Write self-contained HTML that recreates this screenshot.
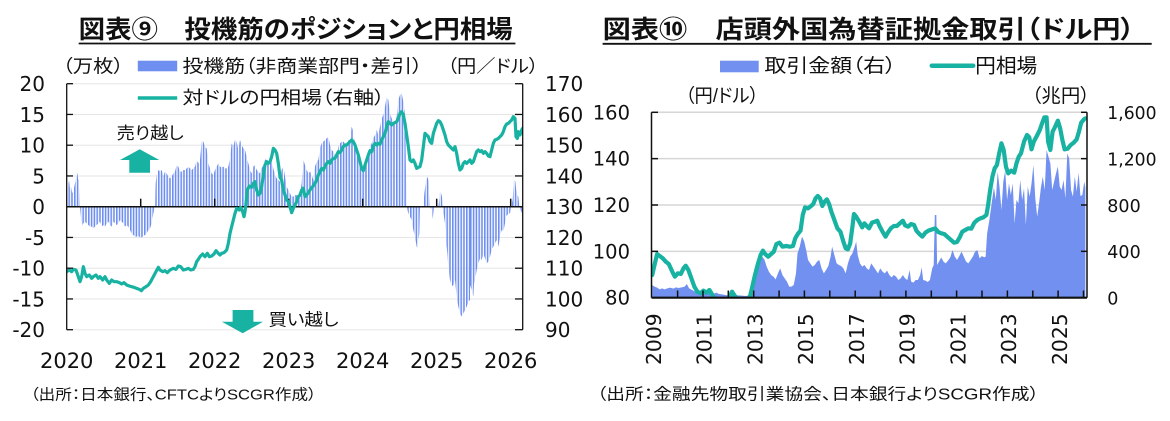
<!DOCTYPE html>
<html><head><meta charset="utf-8">
<style>
html,body{margin:0;padding:0;background:#fff;}
svg{display:block;}
.jp{font-family:"Liberation Sans","Noto Sans CJK JP",sans-serif;font-feature-settings:"palt";fill:#111;}
.num{font-family:"DejaVu Sans",sans-serif;fill:#111;}
</style></head><body>
<svg width="1170" height="421" viewBox="0 0 1170 421" xmlns="http://www.w3.org/2000/svg">
<defs>
<pattern id="stripe" patternUnits="userSpaceOnUse" width="8.4" height="30"><rect x="0" y="0" width="4.8" height="30" fill="#6f8ff0"/></pattern>
<clipPath id="clipL"><rect x="66.7" y="80" width="456" height="252"/></clipPath>
<clipPath id="clipR"><rect x="651.5" y="100" width="435.5" height="197.7"/></clipPath>
</defs>

<!-- ================= LEFT CHART ================= -->
<text class="jp" x="78.7" y="30" font-size="25" font-weight="bold" dominant-baseline="central" textLength="434" lengthAdjust="spacingAndGlyphs">図表⑨　投機筋のポジションと円相場</text>
<line x1="78.7" y1="43.5" x2="515.4" y2="43.5" stroke="#111" stroke-width="1.8"/>

<text class="jp" x="62.6" y="66.7" font-size="18" dominant-baseline="central" textLength="61" lengthAdjust="spacingAndGlyphs">（万枚）</text>
<rect x="137.8" y="60.7" width="39.4" height="10.6" fill="#6f8ff0"/>
<text class="jp" x="182.5" y="66.7" font-size="18" dominant-baseline="central" textLength="240" lengthAdjust="spacingAndGlyphs">投機筋（非商業部門・差引）</text>
<text class="jp" x="447.4" y="66.7" font-size="18" dominant-baseline="central" textLength="91" lengthAdjust="spacingAndGlyphs">（円／ドル）</text>
<line x1="137.8" y1="98" x2="177.2" y2="98" stroke="#18b2a2" stroke-width="3.5"/>
<text class="jp" x="182.5" y="98" font-size="18" dominant-baseline="central" textLength="202" lengthAdjust="spacingAndGlyphs">対ドルの円相場（右軸）</text>

<g stroke="#e6e6e6" stroke-width="1">
<line x1="66.7" y1="83.7" x2="522.7" y2="83.7"/>
<line x1="66.7" y1="114.45" x2="522.7" y2="114.45"/>
<line x1="66.7" y1="145.2" x2="522.7" y2="145.2"/>
<line x1="66.7" y1="175.95" x2="522.7" y2="175.95"/>
<line x1="66.7" y1="237.45" x2="522.7" y2="237.45"/>
<line x1="66.7" y1="268.2" x2="522.7" y2="268.2"/>
<line x1="66.7" y1="298.95" x2="522.7" y2="298.95"/>
<line x1="66.7" y1="329.7" x2="522.7" y2="329.7"/>
</g>

<g clip-path="url(#clipL)">
<g transform="translate(60,80) scale(0.333333)">
<path fill="url(#stripe)" d="M20,380 L20,360 23,330 27,300 30,325 33,320 37,340 40,330 43,320 47,300 50,290 52,278 55,300 58,300 60,380 62,400 65,440 70,430 75,425 80,430 85,435 90,440 95,440 100,445 105,440 110,435 115,430 120,425 125,440 130,435 135,440 140,430 145,425 150,435 155,440 160,425 165,430 170,435 175,430 180,420 185,425 190,430 195,440 200,435 205,440 210,450 215,460 220,465 225,470 230,470 235,468 240,472 245,472 250,468 255,465 260,460 265,450 270,445 275,430 280,400 285,380 287,310 290,285 295,270 300,275 305,270 310,290 315,275 320,280 325,290 330,295 335,290 340,280 345,275 350,255 355,260 360,275 365,275 370,270 375,270 380,265 385,260 390,265 395,270 400,265 405,260 410,240 415,250 420,240 425,185 430,185 435,200 440,205 445,250 450,265 455,280 460,285 465,270 470,260 475,250 480,260 485,262 490,260 495,265 500,265 505,260 510,235 515,190 520,200 525,180 530,185 535,210 540,180 545,195 550,205 555,210 560,230 565,250 570,270 575,280 580,260 585,255 590,270 595,275 600,280 605,265 610,255 615,240 620,235 625,250 630,230 635,240 640,265 645,285 650,295 655,300 660,305 660,380 Z"/>
</g>
<g transform="translate(270,80) scale(0.333333)">
<path fill="url(#stripe)" d="M30,380 L30,300 35,270 40,260 45,290 50,320 55,330 60,340 65,350 70,350 75,345 80,345 85,355 90,340 95,310 100,240 105,255 110,270 115,280 120,275 125,285 130,300 135,260 140,245 145,240 150,205 155,190 160,185 165,180 170,175 175,170 180,195 185,210 190,215 195,225 200,235 205,200 210,190 215,185 220,185 225,190 230,195 235,180 240,180 245,140 250,155 255,200 260,225 265,230 270,250 275,265 280,270 285,255 290,250 295,220 300,200 305,190 310,175 315,165 320,150 325,165 330,140 335,115 340,105 345,80 350,50 355,60 360,100 365,115 370,125 375,130 380,110 385,60 390,45 395,40 400,65 405,95 410,380 415,400 420,410 425,420 430,450 435,470 440,500 443,505 445,480 448,460 450,380 460,380 463,340 467,310 472,290 475,300 478,330 480,380 485,390 487,420 490,400 492,380 505,380 508,360 510,330 513,340 516,350 518,380 522,410 525,430 528,480 532,520 535,560 540,600 545,620 550,615 555,600 560,650 565,680 570,700 575,710 580,700 585,690 590,680 595,665 600,660 600,380 Z"/>
</g>
<g transform="translate(470,50) scale(0.333333)">
<path fill="url(#stripe)" d="M0,470 L0,705 5,720 10,740 12,700 15,690 20,660 25,640 30,625 35,630 40,610 45,625 50,640 55,635 60,620 65,600 70,590 75,580 80,570 85,590 90,560 95,540 100,545 105,520 108,500 112,495 116,490 120,490 123,470 128,450 132,385 136,395 140,430 145,440 148,470 150,470 152,480 155,490 157,470 Z"/>
</g>
</g>

<line x1="66.7" y1="206.7" x2="522.7" y2="206.7" stroke="#111" stroke-width="1.5"/>
<g stroke="#111" stroke-width="1.5">
<line x1="140.7" y1="206.7" x2="140.7" y2="198.7"/>
<line x1="214.7" y1="206.7" x2="214.7" y2="198.7"/>
<line x1="288.7" y1="206.7" x2="288.7" y2="198.7"/>
<line x1="362.7" y1="206.7" x2="362.7" y2="198.7"/>
<line x1="436.7" y1="206.7" x2="436.7" y2="198.7"/>
<line x1="510.7" y1="206.7" x2="510.7" y2="198.7"/>
</g>

<g clip-path="url(#clipL)" fill="none" stroke="#18b2a2" stroke-width="3.2" stroke-linejoin="round" stroke-linecap="round">
<g transform="translate(60,80) scale(0.333333)">
<path vector-effect="non-scaling-stroke" d="M20,575 L28,570 35,575 40,568 48,570 55,590 60,605 65,590 70,560 75,580 80,590 88,585 95,595 100,590 108,585 115,595 120,590 128,600 135,590 140,600 148,610 155,600 162,605 170,605 178,608 185,612 192,608 200,615 208,618 215,620 222,622 230,625 238,628 244,632 250,625 258,620 265,615 272,605 280,590 288,575 295,562 300,570 308,575 315,572 322,578 330,570 340,565 348,568 355,558 362,560 370,570 378,568 385,565 392,570 400,568 405,560 410,545 415,538 420,530 428,522 435,530 442,520 448,530 455,528 462,522 468,512 475,520 480,525 485,520 492,518 500,510 505,490 510,460 515,440 520,420 525,400 530,385 538,390 542,382 548,395 552,410 555,395 558,370 562,330 568,318 575,322 580,310 585,305 590,330 595,345 600,340 605,320 610,285 615,255 620,245 625,250 630,245 635,230 640,205 645,210 650,220 655,250 660,290"/>
</g>
<g transform="translate(270,80) scale(0.333333)">
<path vector-effect="non-scaling-stroke" d="M30,292 L35,300 40,330 45,345 50,360 55,365 60,380 65,398 70,385 75,375 80,365 85,350 90,345 95,330 100,325 105,350 110,345 115,338 120,330 128,320 135,310 140,300 145,285 150,275 155,265 160,270 165,260 170,250 175,245 180,250 185,240 190,235 195,235 200,225 205,215 210,218 215,210 220,200 225,195 230,195 235,190 240,185 245,180 250,185 255,195 260,210 265,225 270,245 275,265 280,272 285,255 290,240 295,225 300,212 305,215 310,198 315,190 320,195 325,190 330,193 335,180 340,170 345,160 350,140 355,125 360,130 365,135 370,130 375,128 380,125 385,115 390,100 395,95 400,105 405,130 410,165 415,200 420,240 425,245 430,240 435,250 440,265 445,262 450,260 455,240 460,200 465,160 470,165 475,170 480,185 485,190 490,160 495,145 500,130 505,122 510,125 515,135 520,150 525,165 530,185 535,195 540,200 545,205 550,210 555,200 560,220 565,250 570,270 575,265 580,250 585,245 590,250 595,245 600,240"/>
</g>
<g transform="translate(470,50) scale(0.333333)">
<path vector-effect="non-scaling-stroke" d="M0,330 L5,340 10,335 15,320 20,305 25,300 30,305 35,302 40,310 45,305 50,310 55,318 60,320 65,300 70,280 75,270 80,268 85,265 90,260 95,255 100,245 105,230 110,222 115,220 120,215 125,210 130,200 135,205 138,260 142,265 145,245 150,255 155,240 158,235"/>
</g>
</g>

<g stroke="#111" stroke-width="1.3">
<line x1="66.7" y1="83.7" x2="66.7" y2="329.7"/>
<line x1="522.7" y1="83.7" x2="522.7" y2="329.7"/>
<line x1="66.7" y1="83.7" x2="73" y2="83.7"/>
<line x1="66.7" y1="114.45" x2="73" y2="114.45"/>
<line x1="66.7" y1="145.2" x2="73" y2="145.2"/>
<line x1="66.7" y1="175.95" x2="73" y2="175.95"/>
<line x1="66.7" y1="237.45" x2="73" y2="237.45"/>
<line x1="66.7" y1="268.2" x2="73" y2="268.2"/>
<line x1="66.7" y1="298.95" x2="73" y2="298.95"/>
<line x1="66.7" y1="329.7" x2="73" y2="329.7"/>
<line x1="515" y1="83.7" x2="522.7" y2="83.7"/>
<line x1="515" y1="114.45" x2="522.7" y2="114.45"/>
<line x1="515" y1="145.2" x2="522.7" y2="145.2"/>
<line x1="515" y1="175.95" x2="522.7" y2="175.95"/>
<line x1="515" y1="237.45" x2="522.7" y2="237.45"/>
<line x1="515" y1="268.2" x2="522.7" y2="268.2"/>
<line x1="515" y1="298.95" x2="522.7" y2="298.95"/>
<line x1="515" y1="329.7" x2="522.7" y2="329.7"/>
</g>

<polygon points="139.7,149.3 159.3,160 150,160 150,172.7 129.3,172.7 129.3,160 120,160" fill="#18b2a2"/>
<text class="jp" x="116.7" y="133.3" font-size="17" dominant-baseline="central" textLength="67" lengthAdjust="spacingAndGlyphs">売り越し</text>
<polygon points="232.6,310 253.4,310 253.4,321.7 263,321.7 242.7,333.3 221.9,321.7 232.6,321.7" fill="#18b2a2"/>
<text class="jp" x="268.5" y="320" font-size="17" dominant-baseline="central" textLength="70" lengthAdjust="spacingAndGlyphs">買い越し</text>

<g class="num" font-size="20" text-anchor="end">
<text x="45" y="91">20</text>
<text x="45" y="121.75">15</text>
<text x="45" y="152.5">10</text>
<text x="45" y="183.25">5</text>
<text x="45" y="214">0</text>
<text x="45" y="244.75">-5</text>
<text x="45" y="275.5">-10</text>
<text x="45" y="306.25">-15</text>
<text x="45" y="337">-20</text>
</g>
<g class="num" font-size="20" text-anchor="start">
<text x="545" y="91">170</text>
<text x="545" y="121.75">160</text>
<text x="545" y="152.5">150</text>
<text x="545" y="183.25">140</text>
<text x="545" y="214">130</text>
<text x="545" y="244.75">120</text>
<text x="545" y="275.5">110</text>
<text x="545" y="306.25">100</text>
<text x="545" y="337">90</text>
</g>
<g class="num" font-size="21" text-anchor="middle">
<text x="66.7" y="368">2020</text>
<text x="140.7" y="368">2021</text>
<text x="214.7" y="368">2022</text>
<text x="288.7" y="368">2023</text>
<text x="362.7" y="368">2024</text>
<text x="436.7" y="368">2025</text>
<text x="510.7" y="368">2026</text>
</g>
<text class="jp" x="30.4" y="395" font-size="15" dominant-baseline="central" textLength="286" lengthAdjust="spacingAndGlyphs">（出所：日本銀行、CFTCよりSCGR作成）</text>

<!-- ================= RIGHT CHART ================= -->
<text class="jp" x="602.6" y="30" font-size="25" font-weight="bold" dominant-baseline="central" textLength="532" lengthAdjust="spacingAndGlyphs">図表⑩　店頭外国為替証拠金取引（ドル円）</text>
<line x1="602.6" y1="43.8" x2="1151.7" y2="43.8" stroke="#111" stroke-width="1.8"/>

<rect x="720" y="60.7" width="38.7" height="11.6" fill="#7190f0"/>
<text class="jp" x="764.4" y="66.7" font-size="19" dominant-baseline="central" textLength="131.7" lengthAdjust="spacingAndGlyphs">取引金額（右）</text>
<line x1="931.8" y1="65.7" x2="973.2" y2="65.7" stroke="#18b2a2" stroke-width="4.5" stroke-linecap="round"/>
<text class="jp" x="975.1" y="66.7" font-size="20" dominant-baseline="central" textLength="62.2" lengthAdjust="spacingAndGlyphs">円相場</text>
<text class="jp" x="685.4" y="96.7" font-size="19" dominant-baseline="central" textLength="73.3" lengthAdjust="spacingAndGlyphs">（円/ドル）</text>
<text class="jp" x="1031.7" y="96.7" font-size="19" dominant-baseline="central" textLength="58.3" lengthAdjust="spacingAndGlyphs">（兆円）</text>

<g stroke="#d6d6d6" stroke-width="1.5">
<line x1="651.5" y1="112.3" x2="1087" y2="112.3"/>
<line x1="651.5" y1="158.65" x2="1087" y2="158.65"/>
<line x1="651.5" y1="205" x2="1087" y2="205"/>
<line x1="651.5" y1="251.35" x2="1087" y2="251.35"/>
</g>

<g clip-path="url(#clipR)">
<g transform="translate(580,100) scale(0.37628,0.333333)">
<path fill="#7190f0" d="M192,593 L192,555 198,560 205,563 212,568 218,565 225,568 232,565 240,563 248,566 255,562 262,564 270,562 278,560 284,552 290,565 298,570 306,575 314,578 322,578 330,580 338,576 346,580 354,582 362,578 370,582 378,583 386,585 394,586 402,586 410,584 420,586 430,587 440,588 448,586 454,565 460,530 466,505 472,495 478,480 484,470 490,478 496,500 502,515 508,525 514,530 520,538 526,520 532,505 538,525 544,535 550,545 556,560 562,560 568,555 574,520 578,460 584,440 590,410 596,425 602,455 606,480 612,490 618,500 624,495 630,485 636,480 642,505 648,520 654,510 660,498 666,470 670,440 676,465 682,490 688,495 694,498 700,505 706,520 712,490 718,470 724,460 730,440 734,425 738,465 744,490 750,500 756,495 762,505 768,510 774,490 780,500 786,510 792,520 798,505 804,515 810,520 816,512 822,525 828,532 834,525 840,530 846,540 852,535 858,525 864,535 870,540 876,510 880,545 886,548 892,540 898,540 904,525 908,502 912,540 918,542 924,546 930,540 936,505 940,495 943,345 947,345 949,495 954,485 960,472 966,485 972,490 978,482 984,472 990,450 996,470 1002,480 1008,468 1014,455 1020,470 1026,485 1032,490 1038,480 1044,470 1050,455 1056,450 1062,475 1068,468 1074,472 1078,470 1082,400 1088,360 1094,310 1100,262 1105,300 1110,215 1115,262 1120,330 1125,245 1130,212 1135,300 1140,250 1145,285 1150,250 1155,370 1160,300 1165,310 1170,240 1175,300 1180,265 1185,375 1190,260 1195,290 1200,250 1205,195 1210,295 1215,350 1220,310 1225,262 1230,230 1235,270 1240,150 1245,170 1250,190 1255,270 1260,245 1265,220 1270,200 1275,260 1280,270 1285,240 1290,295 1295,160 1300,175 1305,270 1310,290 1315,230 1320,275 1325,218 1330,288 1335,285 1340,245 1343,262 1343,593 Z"/>
<path vector-effect="non-scaling-stroke" fill="none" stroke="#18b2a2" stroke-width="4.2" stroke-linejoin="round" stroke-linecap="round" d="M192,525 L198,495 205,462 212,468 220,475 228,485 236,492 244,512 252,530 260,520 268,522 275,505 281,497 288,510 296,535 304,560 312,575 320,580 328,572 336,578 344,570 352,585 360,600 370,612 380,618 390,608 398,590 404,575 410,585 418,598 426,610 436,612 446,600 452,588 458,560 465,525 472,495 480,465 486,452 492,462 500,470 508,462 515,455 522,432 530,428 538,440 548,438 558,440 566,438 572,415 580,400 586,392 592,345 598,322 606,325 614,318 620,312 626,295 632,288 638,295 644,318 650,305 656,298 662,312 668,335 676,360 684,385 692,395 700,425 706,445 712,448 718,430 724,380 728,342 734,350 742,365 750,382 756,370 762,378 768,385 776,368 784,365 790,362 796,378 804,395 812,410 818,398 826,385 834,378 842,378 850,370 858,362 864,376 872,380 880,372 888,375 894,392 902,402 910,410 918,398 926,392 936,388 944,385 952,396 960,400 968,402 976,410 984,418 994,428 1002,426 1010,410 1016,395 1024,390 1032,385 1040,386 1048,368 1056,360 1064,355 1072,352 1080,345 1084,320 1090,270 1096,230 1102,205 1108,195 1114,160 1120,130 1126,150 1132,200 1138,220 1146,212 1154,218 1160,190 1166,170 1172,160 1180,125 1188,105 1194,112 1200,148 1206,125 1214,108 1222,90 1228,70 1234,52 1240,52 1244,125 1250,150 1256,95 1262,82 1270,62 1276,85 1282,120 1288,148 1296,146 1304,135 1312,128 1320,118 1326,95 1332,68 1340,57 1344,55"/>
</g>
</g>

<g stroke="#111" stroke-width="1.5">
<line x1="651.5" y1="112.3" x2="651.5" y2="297.7"/>
<line x1="1087" y1="112.3" x2="1087" y2="297.7"/>
<line x1="651.5" y1="112.3" x2="658" y2="112.3"/>
<line x1="651.5" y1="158.65" x2="658" y2="158.65"/>
<line x1="651.5" y1="205" x2="658" y2="205"/>
<line x1="651.5" y1="251.35" x2="658" y2="251.35"/>
<line x1="1081" y1="112.3" x2="1087" y2="112.3"/>
<line x1="1081" y1="158.65" x2="1087" y2="158.65"/>
<line x1="1081" y1="205" x2="1087" y2="205"/>
<line x1="1081" y1="251.35" x2="1087" y2="251.35"/>
</g>
<line x1="651.5" y1="297.7" x2="1087" y2="297.7" stroke="#111" stroke-width="2.2"/>
<g stroke="#111" stroke-width="1.5">
<line x1="677.6" y1="297.7" x2="677.6" y2="290.5"/>
<line x1="703" y1="297.7" x2="703" y2="290.5"/>
<line x1="728.3" y1="297.7" x2="728.3" y2="290.5"/>
<line x1="753.7" y1="297.7" x2="753.7" y2="290.5"/>
<line x1="779.1" y1="297.7" x2="779.1" y2="290.5"/>
<line x1="804.4" y1="297.7" x2="804.4" y2="290.5"/>
<line x1="829.8" y1="297.7" x2="829.8" y2="290.5"/>
<line x1="855.2" y1="297.7" x2="855.2" y2="290.5"/>
<line x1="880.5" y1="297.7" x2="880.5" y2="290.5"/>
<line x1="905.9" y1="297.7" x2="905.9" y2="290.5"/>
<line x1="931.3" y1="297.7" x2="931.3" y2="290.5"/>
<line x1="956.6" y1="297.7" x2="956.6" y2="290.5"/>
<line x1="982" y1="297.7" x2="982" y2="290.5"/>
<line x1="1007.4" y1="297.7" x2="1007.4" y2="290.5"/>
<line x1="1032.8" y1="297.7" x2="1032.8" y2="290.5"/>
<line x1="1058.1" y1="297.7" x2="1058.1" y2="290.5"/>
<line x1="1083.5" y1="297.7" x2="1083.5" y2="290.5"/>
</g>

<g class="num" font-size="19.5" text-anchor="end">
<text x="630" y="119.3">160</text>
<text x="630" y="165.65">140</text>
<text x="630" y="212">120</text>
<text x="630" y="258.35">100</text>
<text x="630" y="304.7">80</text>
</g>
<g class="num" font-size="17.5" text-anchor="start">
<text x="1107.3" y="119.1" textLength="49.3" lengthAdjust="spacingAndGlyphs">1,600</text>
<text x="1107.3" y="165.45" textLength="49.3" lengthAdjust="spacingAndGlyphs">1,200</text>
<text x="1107.3" y="211.8">800</text>
<text x="1107.3" y="258.15">400</text>
<text x="1107.3" y="304.5">0</text>
</g>
<g class="num" font-size="20" text-anchor="end">
<text transform="translate(660.9,313.3) rotate(-90)" textLength="51.7" lengthAdjust="spacingAndGlyphs">2009</text>
<text transform="translate(711.6,313.3) rotate(-90)" textLength="51.7" lengthAdjust="spacingAndGlyphs">2011</text>
<text transform="translate(762.3,313.3) rotate(-90)" textLength="51.7" lengthAdjust="spacingAndGlyphs">2013</text>
<text transform="translate(813.1,313.3) rotate(-90)" textLength="51.7" lengthAdjust="spacingAndGlyphs">2015</text>
<text transform="translate(863.8,313.3) rotate(-90)" textLength="51.7" lengthAdjust="spacingAndGlyphs">2017</text>
<text transform="translate(914.6,313.3) rotate(-90)" textLength="51.7" lengthAdjust="spacingAndGlyphs">2019</text>
<text transform="translate(965.3,313.3) rotate(-90)" textLength="51.7" lengthAdjust="spacingAndGlyphs">2021</text>
<text transform="translate(1016,313.3) rotate(-90)" textLength="51.7" lengthAdjust="spacingAndGlyphs">2023</text>
<text transform="translate(1066.8,313.3) rotate(-90)" textLength="51.7" lengthAdjust="spacingAndGlyphs">2025</text>
</g>
<text class="jp" x="596.9" y="395" font-size="16" dominant-baseline="central" textLength="442" lengthAdjust="spacingAndGlyphs">（出所：金融先物取引業協会、日本銀行よりSCGR作成）</text>
</svg>
</body></html>
